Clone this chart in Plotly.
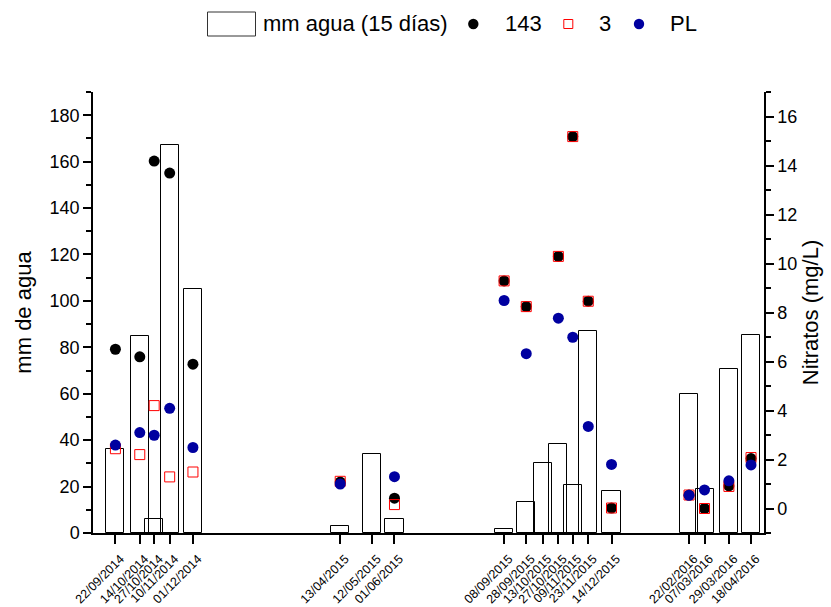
import plotly.graph_objects as go
import pandas as pd

# ---- data ----
bar_dates = ["2014-09-22", "2014-10-14", "2014-10-27", "2014-11-10", "2014-12-01",
             "2015-04-13", "2015-05-12", "2015-06-01",
             "2015-09-08", "2015-09-28", "2015-10-13", "2015-10-27", "2015-11-09", "2015-11-23", "2015-12-14",
             "2016-02-22", "2016-03-07", "2016-03-29", "2016-04-18"]
mm_agua = [36.3, 84.7, 6.0, 167.0, 105.0,
           2.9, 33.9, 6.0,
           1.7, 13.5, 30.0, 38.5, 20.5, 87.0, 17.9,
           59.9, 19.1, 70.7, 85.3]

pt_dates = ["2014-09-22", "2014-10-14", "2014-10-27", "2014-11-10", "2014-12-01",
            "2015-04-13", "2015-06-01",
            "2015-09-08", "2015-09-28", "2015-10-27", "2015-11-09", "2015-11-23", "2015-12-14",
            "2016-02-22", "2016-03-07", "2016-03-29", "2016-04-18"]
s143 = [6.50, 6.19, 14.18, 13.69, 5.89,
        1.08, 0.42,
        9.29, 8.24, 10.29, 15.18, 8.46, 0.02,
        0.55, 0.00, 0.92, 2.04]
s3 = [2.44, 2.20, 4.20, 1.29, 1.49,
      1.11, 0.16,
      9.29, 8.24, 10.29, 15.18, 8.46, 0.02,
      0.55, 0.00, 0.90, 2.08]
sPL = [2.59, 3.10, 2.99, 4.09, 2.49,
       1.00, 1.30,
       8.49, 6.32, 7.77, 6.99, 3.35, 1.80,
       0.54, 0.76, 1.13, 1.78]

tick_labels = [pd.Timestamp(d).strftime("%d/%m/%Y") for d in bar_dates]

FONT = "Arial, Liberation Sans, sans-serif"
BAR_WIDTH_MS = 16.3 * 86400000

fig = go.Figure()
fig.add_trace(go.Bar(
    x=bar_dates, y=mm_agua, width=[BAR_WIDTH_MS] * len(bar_dates),
    marker=dict(color="rgba(0,0,0,0)", line=dict(color="#000000", width=1)),
    name="mm agua (15 días)", yaxis="y", showlegend=False))
fig.add_trace(go.Scatter(
    x=pt_dates, y=s143, mode="markers", name="143", yaxis="y2",
    marker=dict(symbol="circle", size=11, color="#000000"), showlegend=False))
fig.add_trace(go.Scatter(
    x=pt_dates, y=s3, mode="markers", name="3", yaxis="y2",
    marker=dict(symbol="square-open", size=10, color="#FF0000", line=dict(width=1)),
    showlegend=False))
fig.add_trace(go.Scatter(
    x=pt_dates, y=sPL, mode="markers", name="PL", yaxis="y2",
    marker=dict(symbol="circle", size=11, color="#0000A0"), showlegend=False))

L, R, T, B = 93, 67, 92, 74
W, H = 831, 607
PW, PH = W - L - R, H - T - B


def px(xp):
    return (xp - L) / PW


def py(yp):
    return (H - B - yp) / PH


shapes = []
annotations = []
# manual legend
shapes.append(dict(type="rect", xref="paper", yref="paper",
                   x0=px(207.5), x1=px(255.5), y0=py(12), y1=py(36),
                   line=dict(color="#333333", width=1), fillcolor="rgba(0,0,0,0)"))
annotations.append(dict(text="mm agua (15 días)", xref="paper", yref="paper",
                        x=px(261), y=py(24), xanchor="left", yanchor="middle",
                        showarrow=False, font=dict(family=FONT, size=22, color="#000")))
r = 5.2
shapes.append(dict(type="circle", xref="paper", yref="paper",
                   x0=px(473.3 - r), x1=px(473.3 + r), y0=py(24 - r), y1=py(24 + r),
                   line=dict(width=0), fillcolor="#000000"))
annotations.append(dict(text="143", xref="paper", yref="paper",
                        x=px(503), y=py(24), xanchor="left", yanchor="middle",
                        showarrow=False, font=dict(family=FONT, size=22, color="#000")))
s = 4.5
shapes.append(dict(type="rect", xref="paper", yref="paper",
                   x0=px(568.3 - s), x1=px(568.3 + s), y0=py(24 - s), y1=py(24 + s),
                   line=dict(color="#FF0000", width=1), fillcolor="rgba(0,0,0,0)"))
annotations.append(dict(text="3", xref="paper", yref="paper",
                        x=px(597), y=py(24), xanchor="left", yanchor="middle",
                        showarrow=False, font=dict(family=FONT, size=22, color="#000")))
shapes.append(dict(type="circle", xref="paper", yref="paper",
                   x0=px(639 - r), x1=px(639 + r), y0=py(24 - r), y1=py(24 + r),
                   line=dict(width=0), fillcolor="#0000A0"))
annotations.append(dict(text="PL", xref="paper", yref="paper",
                        x=px(668), y=py(24), xanchor="left", yanchor="middle",
                        showarrow=False, font=dict(family=FONT, size=22, color="#000")))

fig.update_layout(
    width=W, height=H,
    margin=dict(l=L, r=R, t=T, b=B, pad=0),
    paper_bgcolor="white", plot_bgcolor="white",
    font=dict(family=FONT, color="#000000"),
    showlegend=False,
    bargap=0,
    shapes=shapes, annotations=annotations,
    xaxis=dict(
        type="date", range=["2014-09-01 18:00", "2016-04-29 17:00"],
        tickmode="array", tickvals=bar_dates, ticktext=tick_labels,
        tickangle=-45, tickfont=dict(family=FONT, size=12.5, color="#000"),
        ticklabelstandoff=3, ticklabelshift=5,
        ticks="outside", ticklen=9, tickwidth=1.5, tickcolor="#000",
        showline=True, linecolor="#000", linewidth=1.5, showgrid=False, zeroline=False,
        automargin=False),
    yaxis=dict(
        range=[0, 190], tick0=0, dtick=20,
        ticks="outside", ticklen=8, tickwidth=1.5, tickcolor="#000",
        minor=dict(dtick=10, ticks="outside", ticklen=5, tickwidth=1.5, tickcolor="#000", showgrid=False),
        showline=True, linecolor="#000", linewidth=1.5, showgrid=False, zeroline=False,
        tickfont=dict(family=FONT, size=18, color="#000"),
        title=dict(text="mm de agua", font=dict(family=FONT, size=22, color="#000"), standoff=12),
        automargin=False),
    yaxis2=dict(
        overlaying="y", side="right", anchor="x",
        range=[-1, 17], tick0=0, dtick=2,
        ticks="outside", ticklen=8, tickwidth=1.5, tickcolor="#000",
        minor=dict(dtick=1, ticks="outside", ticklen=5, tickwidth=1.5, tickcolor="#000", showgrid=False),
        showline=True, linecolor="#000", linewidth=1.5, showgrid=False, zeroline=False,
        tickfont=dict(family=FONT, size=18, color="#000"),
        title=dict(text="Nitratos (mg/L)", font=dict(family=FONT, size=22, color="#000"), standoff=6),
        automargin=False),
)

fig.write_html("out.html", config={"displayModeBar": False},
               post_script="document.body.style.margin='0px';document.body.style.padding='0px';document.body.style.overflow='hidden';")
